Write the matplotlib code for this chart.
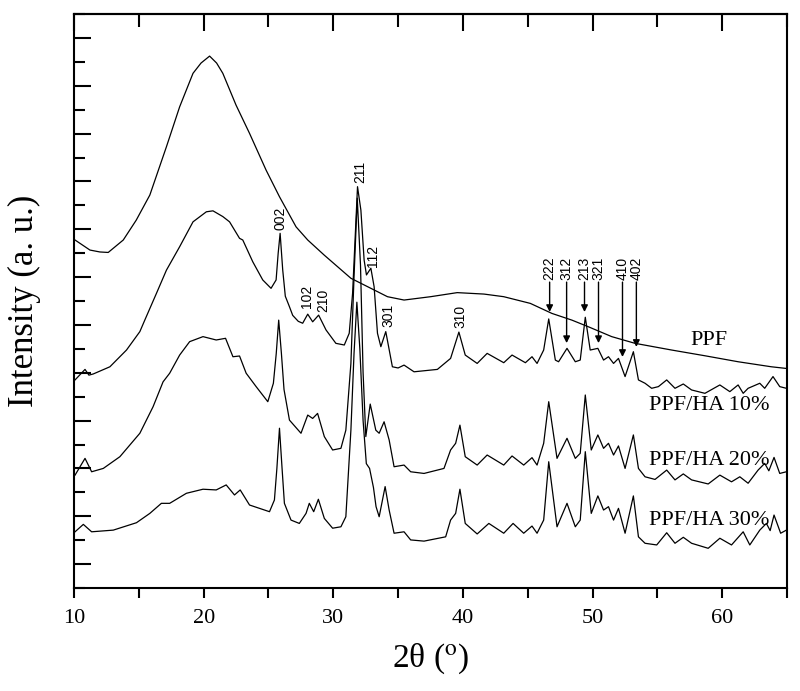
import matplotlib
matplotlib.use('Agg')
import matplotlib.pyplot as plt
from matplotlib.ticker import MultipleLocator, NullFormatter

plt.rcParams['font.family'] = ['Liberation Serif', 'DejaVu Serif']
plt.rcParams['mathtext.fontset'] = 'stix'

# XRD patterns (2theta in degrees, intensity in a.u., stacked)
ppf_tt = [10.08, 11.23, 12.0, 12.64, 13.8, 14.8, 15.85, 17.13, 18.15, 19.18, 19.8, 20.46, 21.0,
          21.48, 22.5, 23.54, 24.82, 25.85, 27.13, 28.03, 29.3, 31.36, 32.9, 34.18, 35.46,
          37.51, 39.56, 41.62, 43.15, 45.2, 46.87, 48.41, 49.69, 51.48, 53.28, 56.1, 58.67,
          61.23, 63.79, 64.95]
ppf_int = [14.55, 14.13, 14.05, 14.03, 14.55, 15.38, 16.43, 18.45, 20.12, 21.52, 21.95, 22.24, 21.95,
           21.52, 20.19, 19.01, 17.47, 16.36, 15.1, 14.55, 13.92, 12.95, 12.53, 12.18, 12.04,
           12.18, 12.35, 12.29, 12.18, 11.9, 11.48, 11.2, 10.92, 10.51, 10.23, 9.95, 9.71,
           9.46, 9.25, 9.18]

ha10_tt = [10.08, 10.85, 11.15, 11.49, 12.77, 14.05, 15.08, 15.46, 16.36, 17.13, 18.15, 19.18,
           20.21, 20.72, 21.48, 22.0, 22.77, 23.02, 23.79, 24.56, 25.2, 25.59, 25.75, 25.9,
           26.1, 26.3, 26.62, 26.87, 27.3, 27.64, 28.03, 28.41, 28.87, 29.44, 30.2, 30.85,
           31.23, 31.49, 31.87, 32.13, 32.38, 32.56, 32.9, 33.15, 33.41, 33.67, 34.05, 34.3,
           34.56, 35.0, 35.46, 36.23, 38.03, 39.05, 39.69, 40.18, 41.1, 41.87, 43.15, 43.79,
           44.82, 45.33, 45.72, 46.23, 46.62, 47.13, 47.38, 48.03, 48.67, 49.05, 49.44, 49.82,
           50.41, 50.85, 51.23, 51.62, 52.0, 52.51, 53.15, 53.54, 54.05, 54.56, 55.08, 55.72,
           56.36, 57.0, 57.64, 58.67, 59.82, 60.59, 61.23, 61.62, 62.0, 62.9, 63.28, 63.92,
           64.44, 64.95]
ha10_int = [8.70, 9.14, 8.9, 8.95, 9.25, 9.95, 10.72, 11.2, 12.32, 13.29, 14.27, 15.31,
            15.73, 15.77, 15.53, 15.31, 14.62, 14.55, 13.64, 12.88, 12.53, 12.88, 14.0, 14.83,
            13.3, 12.2, 11.76, 11.4, 11.15, 11.07, 11.45, 11.13, 11.41, 10.79, 10.23, 10.16,
            10.65, 12.32, 16.78, 15.8, 13.71, 13.09, 13.37, 12.6, 10.65, 10.09, 10.72, 10.0,
            9.25, 9.2, 9.32, 9.04, 9.14, 9.6, 10.7, 9.74, 9.39, 9.81, 9.42, 9.74,
            9.42, 9.67, 9.39, 9.95, 11.25, 9.53, 9.46, 10.02, 9.46, 9.53, 11.32, 9.95,
            10.02, 9.53, 9.67, 9.39, 9.6, 8.84, 9.88, 8.7, 8.56, 8.35, 8.42, 8.7,
            8.35, 8.53, 8.28, 8.14, 8.49, 8.21, 8.49, 8.14, 8.35, 8.56, 8.35, 8.84,
            8.42, 8.35]

ha20_tt = [10.08, 10.85, 11.36, 12.26, 13.54, 15.08, 16.1, 16.87, 17.38, 18.15, 18.92, 19.95,
           20.97, 21.69, 22.26, 22.77, 23.28, 24.05, 24.95, 25.38, 25.6, 25.79, 26.0, 26.2,
           26.62, 27.51, 28.03, 28.41, 28.79, 29.31, 29.95, 30.59, 30.97, 31.36, 31.6, 31.85,
           32.1, 32.3, 32.51, 32.85, 33.28, 33.54, 33.92, 34.31, 34.69, 35.46, 35.97, 37.0,
           38.54, 39.05, 39.44, 39.77, 40.18, 41.1, 41.87, 43.15, 43.79, 44.69, 45.33, 45.72,
           46.23, 46.62, 47.26, 48.03, 48.67, 49.05, 49.44, 49.9, 50.41, 50.85, 51.23, 51.62,
           52.0, 52.51, 53.15, 53.54, 54.05, 54.82, 55.72, 56.36, 57.0, 57.64, 58.92, 59.82,
           60.72, 61.36, 62.0, 62.77, 63.28, 63.6, 64.0, 64.44, 64.95]
ha20_int = [4.72, 5.42, 4.86, 5.0, 5.49, 6.47, 7.58, 8.62, 8.98, 9.74, 10.3, 10.51,
            10.37, 10.44, 9.67, 9.7, 8.98, 8.42, 7.79, 8.56, 9.8, 11.2, 9.8, 8.3,
            7.02, 6.47, 7.23, 7.09, 7.3, 6.33, 5.77, 5.84, 6.6, 9.39, 13.0, 16.3,
            13.5, 9.0, 6.33, 7.69, 6.6, 6.47, 6.95, 6.19, 5.07, 5.14, 4.86, 4.79,
            5.0, 5.77, 6.05, 6.81, 5.49, 5.14, 5.56, 5.14, 5.52, 5.14, 5.45, 5.14,
            6.05, 7.79, 5.42, 6.26, 5.42, 5.63, 8.07, 5.77, 6.4, 5.84, 6.05, 5.56,
            5.94, 5.0, 6.4, 5.0, 4.65, 4.54, 4.93, 4.52, 4.77, 4.52, 4.35, 4.72,
            4.44, 4.65, 4.38, 4.93, 5.21, 4.9, 5.46, 4.79, 4.86]

ha30_tt = [10.08, 10.72, 11.36, 13.03, 14.82, 15.85, 16.74, 17.38, 18.67, 19.95, 20.97, 21.74,
           22.38, 22.82, 23.54, 25.08, 25.46, 25.65, 25.85, 26.05, 26.23, 26.74, 27.38, 27.9,
           28.15, 28.49, 28.85, 29.31, 29.95, 30.59, 30.97, 31.36, 31.6, 31.82, 32.05, 32.3,
           32.55, 32.8, 33.1, 33.3, 33.54, 34.0, 34.31, 34.69, 35.46, 35.97, 37.0, 38.67,
           39.05, 39.44, 39.77, 40.18, 41.1, 42.0, 43.15, 43.87, 44.69, 45.33, 45.72, 46.23,
           46.62, 47.26, 48.03, 48.67, 49.05, 49.44, 49.9, 50.41, 50.85, 51.23, 51.62, 52.0,
           52.51, 53.15, 53.54, 54.05, 54.95, 55.72, 56.36, 57.0, 57.64, 58.92, 59.82, 60.72,
           61.62, 62.13, 62.9, 63.41, 63.7, 64.0, 64.51, 64.95]
ha30_int = [2.35, 2.66, 2.35, 2.42, 2.73, 3.12, 3.54, 3.54, 3.96, 4.13, 4.1, 4.31,
            3.89, 4.1, 3.47, 3.19, 3.68, 5.0, 6.68, 5.0, 3.54, 2.84, 2.7, 3.12,
            3.54, 3.19, 3.71, 2.91, 2.5, 2.56, 2.98, 6.6, 9.8, 11.95, 10.0, 7.0,
            5.2, 5.0, 4.2, 3.4, 2.98, 4.24, 3.26, 2.29, 2.35, 2.01, 1.96, 2.14,
            2.84, 3.12, 4.13, 2.7, 2.26, 2.7, 2.29, 2.7, 2.29, 2.59, 2.29, 2.84,
            5.28, 2.56, 3.54, 2.56, 2.84, 5.7, 3.12, 3.85, 3.26, 3.4, 2.84, 3.33,
            2.29, 3.85, 2.14, 1.87, 1.8, 2.31, 1.87, 2.12, 1.87, 1.66, 2.08, 1.8,
            2.35, 1.8, 2.42, 2.7, 2.4, 3.05, 2.29, 2.42]

# Miller indices: label, 2theta, height of label base
hkl_plain = ['002', '102', '210', '211', '112', '301', '310']
hkl_plain_tt = [25.92, 27.96, 29.23, 32.08, 33.08, 34.23, 39.77]
hkl_plain_y = [14.97, 11.71, 11.54, 16.93, 13.42, 10.91, 10.87]

hkl_arrow = ['222', '312', '213', '321', '410', '402']
hkl_arrow_tt = [46.69, 48.0, 49.38, 50.46, 52.31, 53.38]
hkl_arrow_tip = [11.54, 10.24, 11.54, 10.24, 9.66, 10.08]
hkl_arrow_top = 12.79

sample_names = ['PPF', 'PPF/HA 10%', 'PPF/HA 20%', 'PPF/HA 30%']
sample_label_y = [10.33, 7.65, 5.35, 2.84]

fig = plt.figure(figsize=(8, 6.91), dpi=100)
ax = fig.add_axes([74 / 800, 1 - 588 / 691, (787 - 74) / 800, (588 - 14) / 691])

for tt, inten in [(ppf_tt, ppf_int), (ha10_tt, ha10_int), (ha20_tt, ha20_int), (ha30_tt, ha30_int)]:
    ax.plot(tt, inten, color='black', lw=0.9)

for lab, x, y in zip(hkl_plain, hkl_plain_tt, hkl_plain_y):
    ax.text(x, y, lab, rotation=90, ha='center', va='bottom', fontsize=10,
            family='Liberation Sans')

for lab, x, tip in zip(hkl_arrow, hkl_arrow_tt, hkl_arrow_tip):
    ax.text(x, hkl_arrow_top + 0.08, lab, rotation=90, ha='center', va='bottom',
            fontsize=10, family='Liberation Sans')
    ax.annotate('', xy=(x, tip), xytext=(x, hkl_arrow_top),
                arrowprops=dict(arrowstyle='-|>', color='black', lw=1.0,
                                mutation_scale=10, shrinkA=0, shrinkB=0))

for name, y in zip(sample_names, sample_label_y):
    ax.text(59.0, y, name, ha='center', va='center', fontsize=16)

ax.set_xlim(10, 65)
ax.set_ylim(0, 24)

ax.xaxis.set_major_locator(MultipleLocator(10))
ax.xaxis.set_minor_locator(MultipleLocator(5))
ax.yaxis.set_major_locator(MultipleLocator(2, offset=1))
ax.yaxis.set_minor_locator(MultipleLocator(1))
ax.yaxis.set_major_formatter(NullFormatter())

ax.tick_params(axis='x', which='both', direction='out', length=7, width=1.5,
               labelsize=16, pad=8)
ax.tick_params(axis='y', which='major', direction='in', length=12, width=1.5, right=False)
ax.tick_params(axis='y', which='minor', direction='in', length=8, width=1.5, right=False)

top = ax.secondary_xaxis('top')
top.xaxis.set_major_locator(MultipleLocator(10))
top.xaxis.set_minor_locator(MultipleLocator(5))
top.tick_params(which='major', direction='in', length=12, width=1.5, labeltop=False)
top.tick_params(which='minor', direction='in', length=9, width=1.5)
top.spines['top'].set_linewidth(1.5)

for s in ax.spines.values():
    s.set_linewidth(1.5)

ax.set_xlabel('2θ ($^{\\rm o}$)', fontsize=24, labelpad=10)
ax.set_ylabel('Intensity (a. u.)', fontsize=25, labelpad=20)

fig.savefig('out.png', dpi=100)
